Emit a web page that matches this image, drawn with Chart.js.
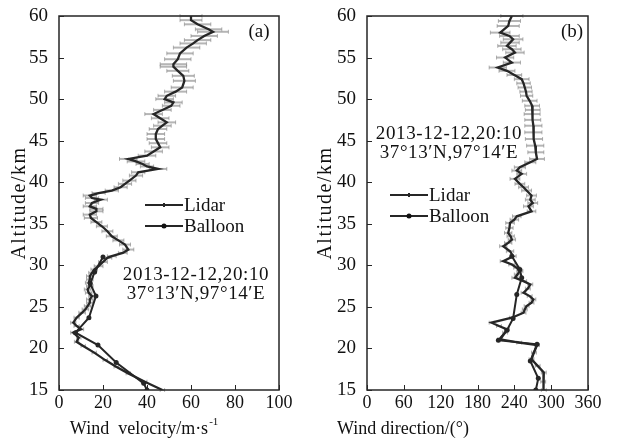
<!DOCTYPE html>
<html>
<head>
<meta charset="utf-8">
<script src="https://cdn.jsdelivr.net/npm/chart.js@4.4.1/dist/chart.umd.min.js"></script>
<style>
  html, body { margin: 0; padding: 0; background: #fff; }
  #wrap { position: relative; width: 621px; height: 442px; }
  .panel { position: absolute; top: 0; height: 442px; }
</style>
</head>
<body>
<div id="wrap">
  <div class="panel" style="left:0;width:310px"><canvas id="chartA"></canvas></div>
  <div class="panel" style="left:310px;width:311px"><canvas id="chartB"></canvas></div>
</div>
<script>
// altitude ticks (km)
const altTicks = [15, 20, 25, 30, 35, 40, 45, 50, 55, 60]

// (a) wind velocity, lidar
const altLidarA = [60.0,59.5,59.0,58.4,58.1,57.6,57.1,56.7,56.2,55.5,54.8,54.2,53.9,53.4,52.8,52.2,51.4,50.9,50.4,50.0,
  49.6,49.2,48.7,48.2,47.7,47.2,46.8,46.4,45.8,45.2,44.7,44.2,43.7,43.2,42.8,42.5,42.2,41.9,41.6,41.2,40.8,
  40.2,39.8,39.4,39.0,38.7,38.4,38.1,37.9,37.5,37.1,36.8,36.5,36.1,35.7,35.2,34.7,34.1,33.5,33.0,32.5,31.9,
  31.5,31.1,30.9,30.4,29.9,29.5,29.1,28.7,28.3,27.9,27.5,27.1,26.7,26.3,25.9,25.5,25.1,24.7,24.3,
  23.7,23.1,22.7,22.3,21.9,21.3,20.8,20.3,19.5,18.6,17.8,17.0,16.0,15.0]
const velLidarA = [60,60,63,68,70,66,63,61,58,55,54,52,52,54,56.5,57,56,53,49,48,
  52,51,47,43,46,49,47,45,44,44,45,46,43,40,31.5,35,38,40,45,36,35,
  32,30,28,24,18,14,15,19,15,14,17,17,14,14.5,17,19.5,22,24,27,30,31.5,
  29,24,22,20,18,16,15,14,14,13.5,14,13,13.5,15,14,14,13,12,10.5,
  8,6.5,8,10,6.5,9,8,11,16,21,26,31.5,39,47]
const errLidarA = [5,5,6,6,7,6,6,6,6,6,6,6,6,5,5,5,5,5,4,4,
  4,4,4,4,4,4,4,4,4,4,4,4,4,4,4,4,3,3,4,3,3,
  3,3,3,3,3,3,3,3,3,3,3,3,3,3,2.5,2.5,2.5,2.5,2.5,2.5,2.5,
  2,2,2,2,2,1.5,1.5,1.5,1.5,1.5,1.5,1.5,1.5,1.5,1.5,1.5,1.5,1.5,1.5,
  1.2,1.2,1.2,1.2,1.2,1,1,1,1,1,1,1,1,1]

// (a) wind velocity, balloon
const altBalloonA = [31.0,29.2,27.8,26.3,23.7,21.9,20.4,18.3,15.8,15.0]
const velBalloonA = [20,16.2,14.2,16.8,13.6,7.5,17.7,26,38.5,40]

// (b) wind direction, lidar
const altLidarB = [60.0,59.4,58.8,58.0,57.6,57.2,56.8,56.4,56.0,55.6,55.0,54.4,53.8,53.4,52.9,52.4,51.9,51.4,50.9,50.4,
  49.8,49.2,48.7,48.2,47.5,46.8,46.0,45.2,44.4,43.6,42.8,
  42.4,41.8,41.4,41.0,40.4,39.8,39.4,39.0,38.4,37.9,37.5,37.1,36.5,35.9,35.5,35.1,
  34.5,33.9,33.5,33.1,32.7,32.3,31.7,31.1,30.5,30.1,29.7,29.3,28.9,28.5,28.1,
  27.7,27.2,26.7,26.3,25.9,25.5,25.1,24.7,24.3,23.7,23.1,22.7,22.3,21.9,21.1,20.7,20.4,19.5,18.7,17.9,17.1,16.0,15.0]
const dirLidarB = [236,232,230,217,232,238,233,228,236,241,225,236,213,228,240,252,255,257,259,260,
  265,269,270,269,270,271,271,272,274,275,277,
  266,249,244,252,241,249,255,260,268,266,270,263,268,244,240,233,
  232,230,234,236,230,222,233,238,222,236,244,249,245,241,255,
  266,262,255,265,271,268,260,257,255,236,203,215,228,225,217,248,277,272,268,278,288,287,288]
const errLidarB = [18,18,18,16,16,16,15,15,15,15,14,14,14,13,12,12,11,11,10,10,
  12,12,12,13,13,14,14,14,14,13,12,
  9,9,8,8,8,8,8,8,8,8,8,8,7,7,7,7,
  6,6,6,6,6,6,6,5,5,5,5,5,5,5,5,
  4,4,4,4,4,4,4,4,4,4,4,4,4,4,4,4,4,4,4,4,4,4,4]

// (b) wind direction, balloon
const altBalloonB = [31.1,29.5,28.5,26.5,23.6,22.2,21.0,20.5,18.5,16.4,15.0]
const dirBalloonB = [236,249,252,244,238,228,214,277,266,279,275]

const seriesNames = ["Lidar", "Balloon"]
const stamp = ["2013-12-12,20:10", "37\u00b013\u2032N,97\u00b014\u2032E"]

const serif = "'Liberation Serif', 'Times New Roman', serif"
const ink = "#262626"

function pts(alts, vals) {
  return vals.map((v, i) => ({ x: v, y: alts[i] }))
}

// frame, inward ticks, error bars, legend and notes
const decor = {
  id: "decor",
  beforeDatasetsDraw(chart, args, o) {
    const { ctx, scales: { x, y } } = chart
    ctx.save()
    ctx.strokeStyle = "rgba(120,120,120,0.55)"
    ctx.lineWidth = 2
    o.err.forEach((e, i) => {
      const py = y.getPixelForValue(o.alt[i])
      const x1 = x.getPixelForValue(o.val[i] - e)
      const x2 = x.getPixelForValue(o.val[i] + e)
      ctx.beginPath()
      ctx.moveTo(x1, py); ctx.lineTo(x2, py)
      ctx.stroke()
    })
    ctx.lineWidth = 1
    o.err.forEach((e, i) => {
      const py = y.getPixelForValue(o.alt[i])
      const x1 = x.getPixelForValue(o.val[i] - e)
      const x2 = x.getPixelForValue(o.val[i] + e)
      ctx.beginPath()
      ctx.moveTo(x1, py - 2); ctx.lineTo(x1, py + 2)
      ctx.moveTo(x2, py - 2); ctx.lineTo(x2, py + 2)
      ctx.stroke()
    })
    ctx.restore()
  },
  afterDraw(chart, args, o) {
    const { ctx, chartArea: a, scales: { x, y } } = chart
    ctx.save()
    ctx.strokeStyle = ink
    ctx.lineWidth = 1.5
    ctx.strokeRect(a.left, a.top, a.right - a.left, a.bottom - a.top)
    ctx.lineWidth = 1
    ctx.beginPath()
    x.ticks.forEach(t => {
      const px = Math.round(x.getPixelForValue(t.value)) + 0.5
      ctx.moveTo(px, a.bottom); ctx.lineTo(px, a.bottom - 5)
    })
    y.ticks.forEach(t => {
      const py = Math.round(y.getPixelForValue(t.value)) + 0.5
      ctx.moveTo(a.left, py); ctx.lineTo(a.left + 5, py)
    })
    ctx.stroke()

    ctx.fillStyle = "#111"
    ctx.textBaseline = "middle"

    // legend
    ctx.font = "19px " + serif
    ctx.textAlign = "left"
    seriesNames.forEach((name, i) => {
      const ly = o.legend.y + i * 21
      ctx.strokeStyle = ink
      ctx.lineWidth = 2
      ctx.beginPath(); ctx.moveTo(o.legend.x, ly); ctx.lineTo(o.legend.x + 38, ly); ctx.stroke()
      if (i === 1) {
        ctx.beginPath(); ctx.arc(o.legend.x + 19, ly, 2.5, 0, Math.PI * 2); ctx.fill()
      } else {
        ctx.beginPath(); ctx.moveTo(o.legend.x + 19, ly - 2); ctx.lineTo(o.legend.x + 19, ly + 2); ctx.stroke()
      }
      ctx.fillText(name, o.legend.x + 39, ly + 1)
    })

    // date / position note
    ctx.textAlign = "center"
    ctx.letterSpacing = "0.6px"
    stamp.forEach((s, i) => ctx.fillText(s, o.note.x, o.note.y + i * 19))
    ctx.letterSpacing = "0px"

    // panel tag
    ctx.fillText(o.tag, o.tagPos.x, o.tagPos.y)

    // x title
    ctx.font = "18px " + serif
    ctx.textAlign = "left"
    const w = ctx.measureText(o.xTitle).width + (o.xSup ? 10 : 0)
    const tx = o.xTitlePos.x - w / 2
    ctx.fillText(o.xTitle, tx, o.xTitlePos.y)
    if (o.xSup) {
      ctx.font = "11px " + serif
      ctx.fillText(o.xSup, tx + w - 9, o.xTitlePos.y - 7)
    }

    // y title
    ctx.font = "20px " + serif
    ctx.letterSpacing = "1.5px"
    ctx.translate(o.yTitleX, (a.top + a.bottom) / 2)
    ctx.rotate(-Math.PI / 2)
    ctx.textAlign = "center"
    ctx.fillText("Altitude/km", 0, 0)
    ctx.restore()
  },
}

function makeChart(id, cfg) {
  const datasets = [
    {
      label: seriesNames[0],
      data: pts(cfg.lidarAlt, cfg.lidarVal),
      showLine: true,
      borderColor: ink,
      borderWidth: 2.3,
      pointRadius: 0,
      tension: 0,
    },
    {
      label: seriesNames[1],
      data: pts(cfg.balloonAlt, cfg.balloonVal),
      showLine: true,
      borderColor: ink,
      backgroundColor: ink,
      borderWidth: 2,
      pointRadius: 2.5,
      pointBorderWidth: 0,
      tension: 0,
    },
  ]
  return new Chart(document.getElementById(id), {
    type: "scatter",
    data: { datasets: datasets },
    plugins: [decor],
    options: {
      responsive: true,
      maintainAspectRatio: false,
      animation: false,
      layout: { padding: { left: 0, right: cfg.padRight, top: 16, bottom: 0 } },
      plugins: {
        legend: { display: false },
        tooltip: { enabled: false },
        decor: cfg.decor,
      },
      scales: {
        x: {
          type: "linear",
          min: cfg.xMin,
          max: cfg.xMax,
          afterFit: s => { s.height = 52 },
          afterBuildTicks: s => { s.ticks = cfg.xTicks.map(v => ({ value: v })) },
          grid: { display: false },
          border: { display: false },
          ticks: { color: "#111", padding: -6, font: { family: serif, size: 18 } },
        },
        y: {
          type: "linear",
          min: 15,
          max: 60,
          afterFit: s => { s.width = cfg.yWidth },
          afterBuildTicks: s => { s.ticks = altTicks.map(v => ({ value: v })) },
          grid: { display: false },
          border: { display: false },
          ticks: { color: "#111", padding: 3, font: { family: serif, size: 19 } },
        },
      },
    },
  })
}

makeChart("chartA", {
  lidarAlt: altLidarA, lidarVal: velLidarA,
  balloonAlt: altBalloonA, balloonVal: velBalloonA,
  xMin: 0, xMax: 100, xTicks: [0, 20, 40, 60, 80, 100],
  yWidth: 59, padRight: 31,
  decor: {
    alt: altLidarA, val: velLidarA, err: errLidarA,
    legend: { x: 145, y: 205 },
    note: { x: 196, y: 275 },
    tag: "(a)", tagPos: { x: 259, y: 32 },
    xTitle: "Wind  velocity/m\u00b7s", xSup: "-1", xTitlePos: { x: 144, y: 429 },
    yTitleX: 20,
  },
})

makeChart("chartB", {
  lidarAlt: altLidarB, lidarVal: dirLidarB,
  balloonAlt: altBalloonB, balloonVal: dirBalloonB,
  xMin: 0, xMax: 360, xTicks: [0, 60, 120, 180, 240, 300, 360],
  yWidth: 57, padRight: 33,
  decor: {
    alt: altLidarB, val: dirLidarB, err: errLidarB,
    legend: { x: 80, y: 195 },
    note: { x: 139, y: 134 },
    tag: "(b)", tagPos: { x: 262, y: 32 },
    xTitle: "Wind direction/(\u00b0)", xSup: "", xTitlePos: { x: 93, y: 429 },
    yTitleX: 16,
  },
})
</script>
</body>
</html>
